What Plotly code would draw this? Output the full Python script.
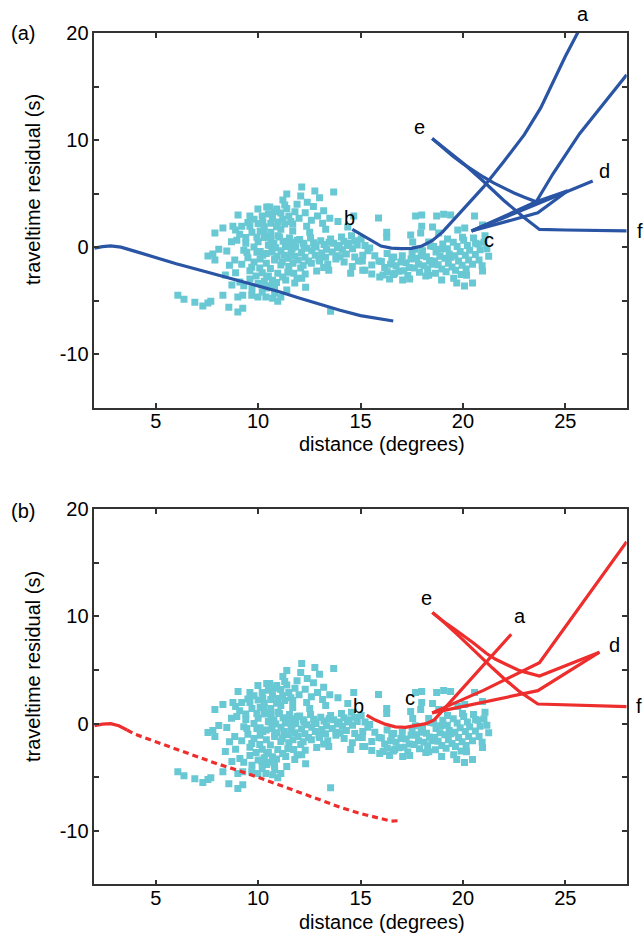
import plotly.graph_objects as go

# ---------------- observed residuals (same data in both panels) ----------------
obs_dist = [
    6.08, 6.38, 6.91, 7.30, 7.55, 7.69, 8.28, 8.57, 9.01, 9.25, 9.01, 9.25, 9.69, 9.99, 10.38,
    9.02, 9.60, 9.99, 10.42, 7.89, 8.28, 8.77, 9.20, 9.60, 10.23, 9.94, 10.28, 8.96, 9.40, 8.08,
    8.47, 7.55, 7.79, 7.89, 8.86, 9.45, 9.94, 10.23, 9.69, 10.08, 10.42, 8.72, 9.11, 9.60, 10.18, 10.42,
    12.13, 12.77, 13.69, 11.40, 12.08, 11.21, 11.30, 10.91, 11.11, 10.57, 14.67, 13.15, 12.37, 11.69, 11.30, 10.96, 10.62, 14.38, 13.30, 12.52, 11.69, 11.11, 10.62,
    10.81, 11.11, 11.45, 10.96, 11.74, 12.08, 12.86, 13.45, 14.52, 15.21, 15.11, 14.72, 11.35, 11.79, 12.13, 12.32, 10.81, 11.11, 10.71,
    10.96, 13.54,
    10.63, 10.77, 10.86, 10.68, 10.93, 10.81, 10.97, 10.58,
    11.04, 11.22, 11.33, 11.12, 11.28, 11.47, 11.18, 11.42,
    11.53, 11.72, 11.84, 11.61, 11.79, 11.96, 11.66, 11.91,
    12.03, 12.21, 12.37, 12.12, 12.29, 12.46, 12.24,
    12.56, 12.71, 12.83, 12.62, 12.79, 12.97, 12.74,
    13.06, 13.22, 13.34, 13.11, 13.29, 13.47,
    13.54, 13.69, 13.87, 13.62, 13.81, 13.96,
    14.07, 14.19, 14.36, 14.12, 14.31, 14.44,
    14.56, 14.72, 14.84, 14.61,
    15.03, 15.22, 15.36, 15.09,
    9.8, 10.0, 10.2, 10.5, 10.7, 10.3, 10.9, 11.2, 11.5, 11.8, 11.6, 12.0, 12.3, 12.6, 12.9, 13.2, 13.5, 13.9, 12.4, 12.7, 11.9, 13.0, 11.4, 10.8,
    9.5, 9.8, 10.1, 10.4, 10.6, 10.2, 9.9, 10.5, 10.7, 10.3, 10.0, 10.6, 10.9, 11.2, 11.5, 11.7, 11.9, 12.3, 10.8, 11.4, 9.7, 10.2, 9.3, 9.6, 9.2, 8.9, 8.6, 8.4,
    9.1, 9.4, 9.7, 10.0, 10.3, 10.5, 9.8, 9.3, 10.1, 10.4, 8.7, 8.9, 9.5, 10.6, 10.1,
    12.6, 13.0, 13.4, 13.8, 14.2, 14.0, 13.2, 12.2, 14.6, 14.9,
    15.88, 17.69, 17.99, 18.72, 19.06, 19.40, 20.57, 17.99, 18.52, 16.28, 16.28, 17.45, 17.94, 18.82, 19.75, 20.09, 20.96, 17.55, 18.33, 19.25, 19.98, 20.62, 15.45, 16.62,
    15.55, 15.55, 15.94, 16.42, 17.40, 18.33, 18.96, 19.55, 19.70, 20.18, 20.96, 20.08, 20.47, 15.11, 16.10, 16.67, 17.06,
    15.70, 15.90, 16.30,
    16.02, 16.18, 16.31, 16.47,
    16.53, 16.74, 16.88, 16.61, 16.97,
    17.04, 17.23, 17.38, 17.12, 17.31, 17.47,
    17.52, 17.74, 17.83, 17.63, 17.88, 17.97, 17.68,
    18.03, 18.22, 18.37, 18.11, 18.28, 18.48, 18.19, 18.42,
    18.57, 18.69, 18.88, 18.62, 18.79, 18.97, 18.66, 18.91,
    19.02, 19.24, 19.33, 19.12, 19.29, 19.47, 19.18, 19.42,
    19.53, 19.72, 19.87, 19.61, 19.79, 19.96, 19.64, 19.91,
    20.04, 20.22, 20.33, 20.12, 20.28, 20.47, 20.16,
    20.52, 20.73, 20.84, 20.61, 20.79, 20.94,
    21.03, 21.17, 21.26, 21.08,
]
obs_resid = [
    -4.49, -4.86, -5.14, -5.51, -5.23, -5.05, -4.49, -5.61, -6.07, -5.70, -4.67, -4.49, -4.49, -4.67, -4.67,
    2.99, 2.90, 3.55, 3.74, 1.31, 1.78, 1.96, 1.96, 1.96, 2.34, 0.93, 1.50, 0.65, 0.37, -0.19,
    -0.37, -0.84, -0.65, -1.21, -1.21, -0.47, -0.47, -0.75, -1.87, -1.96, -2.80, -3.55, -3.27, -2.99, -3.55, -3.83,
    5.61, 5.23, 5.14, 4.95, 4.77, 4.39, 3.93, 3.55, 3.18, 3.74, 2.90, 2.24, 1.96, 2.15, 2.15, 2.34, 2.24, 1.87, 1.68, 1.40, 1.50, 1.68, 1.40,
    -1.21, -1.68, -2.34, -2.43, -2.43, -1.96, -2.24, -2.15, -2.43, -2.15, -0.75, -0.93, -3.08, -3.36, -2.90, -3.74, -4.30, -4.67, -4.77,
    -5.05, -5.98,
    0.75, 0.35, -0.05, -0.45, -0.85, -1.10, 1.05, 0.15,
    0.95, 0.55, 0.05, -0.35, -0.75, -1.05, -1.40, 0.30,
    0.85, 0.45, 0.00, -0.45, -0.85, -1.20, -0.15, 0.65,
    0.70, 0.35, -0.10, -0.50, -0.95, -1.30, 0.15,
    0.85, 0.40, 0.00, -0.35, -0.75, -1.10, 0.20,
    0.60, 0.25, -0.20, -0.55, -0.95, 0.45,
    0.75, 0.35, -0.05, -0.45, -0.80, 0.15,
    0.95, 0.55, 0.15, -0.25, -0.65, 0.35,
    1.05, 0.60, 0.20, -0.15,
    0.75, 0.15, -0.35, -1.30,
    2.6, 2.2, 2.9, 3.1, 2.7, 1.9, 1.9, 2.6, 2.9, 3.3, 2.4, 2.7, 3.2, 2.5, 2.9, 3.4, 2.7, 2.4, 4.2, 3.8, 4.0, 4.6, 3.6, 3.3,
    -1.0, -1.4, -1.1, -1.5, -2.0, -2.4, -2.7, -2.7, -3.1, -3.2, -3.4, -3.6, -3.3, -2.8, -1.8, -1.5, -2.9, -2.5, -3.9, -4.0, -3.9, -4.2, -3.6, -2.2, -1.6, -2.4, -1.7, -2.6,
    1.2, 0.9, 1.4, 0.5, 0.9, 0.2, 0.0, -0.3, -0.4, -0.6, 0.5, 1.6, 2.3, 1.0, 1.5,
    -1.5, -1.3, -1.6, -1.1, -1.4, -0.9, -1.9, -1.7, -1.8, -1.3,
    2.71, 2.90, 2.99, 2.90, 3.08, 2.99, 2.90, 1.96, 1.87, 1.40, 0.93, 1.12, 1.31, 1.31, 1.59, 1.78, 2.06, 0.47, 0.47, 0.75, 0.93, 0.37, -0.09, -0.93,
    -1.68, -2.52, -2.80, -2.99, -2.99, -2.62, -3.08, -2.90, -3.36, -2.62, -2.24, -3.64, -3.36, -2.15, -2.60, -2.43, -3.08,
    -0.8, -1.3, -0.6,
    -1.35, -1.90, -2.30, -1.60,
    -1.10, -1.75, -2.25, -2.55, -1.40,
    -0.80, -1.45, -1.90, -2.20, -2.65, -1.10,
    -0.55, -1.05, -1.60, -1.95, -2.35, -0.80, -0.20,
    -0.35, -0.90, -1.25, -1.75, -2.10, -1.60, -2.70, 0.10,
    0.05, -0.45, -0.85, -1.30, -1.65, -2.05, -2.45, -0.20,
    0.30, -0.15, -0.65, -1.05, -1.50, -1.85, -2.30, -0.95,
    0.45, 0.05, -0.40, -0.80, -1.30, -1.70, -2.15, -2.55,
    0.65, 0.15, -0.30, -0.75, -1.20, -1.60, -2.05,
    0.85, 0.30, -0.25, -0.70, -1.20, -1.75,
    0.45, -0.15, -0.85, 1.05,
]

# ---------------- panel (a): model curves ----------------
a_dir_x = [2.0, 2.4, 2.8, 3.3, 4.0, 5, 6, 7, 8, 9, 10, 11, 12, 13, 14, 15, 16, 16.6]
a_dir_y = [-0.1, 0.05, 0.12, 0.0, -0.4, -1.0, -1.55, -2.07, -2.6, -3.1, -3.6, -4.15, -4.75, -5.33, -5.9, -6.4, -6.72, -6.9]

a_ba_x = [14.6, 15.0, 15.5, 16.0, 16.5, 17.0, 17.5, 18.0, 18.5, 19.0, 19.5, 20.0, 20.5, 21.0, 22.0, 23.0, 23.8, 24.5, 25.0, 25.6, 25.9]
a_ba_y = [1.65, 1.2, 0.6, 0.1, -0.1, -0.15, -0.12, 0.1, 0.6, 1.4, 2.45, 3.5, 4.45, 5.6, 8.0, 10.5, 13.0, 15.8, 17.8, 20.0, 21.2]

a_c1_x = [20.42, 23.58, 24.4, 25.7, 28.0]
a_c1_y = [1.5, 4.23, 6.85, 10.6, 16.1]
a_c2_x = [20.42, 22.0, 23.66, 25.12]
a_c2_y = [1.5, 2.35, 3.2, 5.26]
a_cd_x = [20.42, 26.34]
a_cd_y = [1.5, 6.17]
a_eu_x = [18.5, 19.0, 19.5, 20.0, 20.5, 21.0, 21.5, 22.0, 22.5, 23.0, 23.58, 25.12]
a_eu_y = [10.15, 9.3, 8.5, 7.8, 7.15, 6.55, 6.0, 5.5, 5.05, 4.65, 4.23, 5.26]
a_el_x = [18.5, 19.0, 20.0, 21.0, 22.0, 23.0, 23.74, 25.0, 26.5, 28.0]
a_el_y = [10.15, 9.4, 7.85, 6.15, 4.35, 2.75, 1.65, 1.6, 1.57, 1.52]

a_lab_txt = ["a", "b", "c", "d", "e", "f"]
a_lab_x = [25.86, 14.44, 21.27, 26.91, 17.89, 28.65]
a_lab_y = [21.8, 2.68, 0.65, 7.13, 11.24, 1.52]

# ---------------- panel (b): model curves ----------------
b_dir_solid_x = [2.0, 2.4, 2.8, 3.2, 3.6]
b_dir_solid_y = [-0.2, -0.05, 0.0, -0.2, -0.6]
b_dir_dot_x = [3.6, 4, 5, 6, 7, 8, 9, 10, 11, 12, 13, 14, 15, 16, 16.5, 17.0]
b_dir_dot_y = [-0.6, -1.0, -1.7, -2.4, -3.1, -3.75, -4.35, -5.0, -5.7, -6.4, -7.1, -7.8, -8.4, -8.9, -9.1, -9.05]

b_ba_x = [15.3, 15.7, 16.2, 16.7, 17.2, 17.7, 18.2, 18.6, 19.5, 20.5, 21.5, 22.36]
b_ba_y = [0.8, 0.35, -0.05, -0.3, -0.35, -0.2, 0.0, 0.35, 2.26, 4.38, 6.5, 8.34]

b_c1_x = [18.5, 21.0, 23.74, 28.0]
b_c1_y = [1.0, 3.1, 5.69, 16.98]
b_c2_x = [18.5, 21.0, 23.66, 26.67]
b_c2_y = [1.0, 2.0, 3.07, 6.66]
b_eu_x = [18.51, 19.0, 19.53, 20.0, 20.5, 21.14, 21.6, 22.2, 22.77, 23.74, 26.67]
b_eu_y = [10.36, 9.6, 8.9, 8.25, 7.55, 6.56, 6.0, 5.45, 4.94, 4.44, 6.66]
b_el_x = [18.51, 19.0, 19.84, 20.6, 21.46, 22.1, 22.77, 23.66, 25.5, 28.0]
b_el_y = [10.36, 9.6, 8.11, 6.7, 5.16, 4.05, 2.98, 1.83, 1.72, 1.58]

b_lab_txt = ["a", "b", "c", "d", "e", "f"]
b_lab_x = [22.81, 14.88, 17.40, 27.40, 18.21, 28.59]
b_lab_y = [10.05, 1.64, 2.36, 7.34, 11.70, 1.64]

# ---------------- styling ----------------
FONT = "Liberation Sans, Arial, Helvetica, sans-serif"
CYAN = "#68C8D3"
BLUE = "#2A55A5"
RED = "#EE2D2D"
LW = 3.2
W, H = 644, 936
X_RANGE = [2, 28]
Y_RANGE = [-15, 20]
XDOM = [94.3 / W, 626.7 / W]
YDOM_A = [1 - 407.7 / H, 1 - 33 / H]
YDOM_B = [1 - 884.3 / H, 1 - 509.3 / H]

fig = go.Figure()

for xa, ya in (("x", "y"), ("x2", "y2")):
    fig.add_trace(go.Scatter(x=obs_dist, y=obs_resid, mode="markers", xaxis=xa, yaxis=ya,
                             marker=dict(symbol="square", size=7, color=CYAN, line=dict(width=0)),
                             showlegend=False, hoverinfo="skip"))

def add_line(xs, ys, color, xa, ya, dash="solid"):
    fig.add_trace(go.Scatter(x=xs, y=ys, mode="lines", xaxis=xa, yaxis=ya,
                             line=dict(color=color, width=LW, dash=dash),
                             showlegend=False, hoverinfo="skip"))

for xs, ys in ((a_dir_x, a_dir_y), (a_ba_x, a_ba_y), (a_c1_x, a_c1_y), (a_c2_x, a_c2_y),
               (a_cd_x, a_cd_y), (a_eu_x, a_eu_y), (a_el_x, a_el_y)):
    add_line(xs, ys, BLUE, "x", "y")

add_line(b_dir_solid_x, b_dir_solid_y, RED, "x2", "y2")
add_line(b_dir_dot_x, b_dir_dot_y, RED, "x2", "y2", dash="6px,4px")
for xs, ys in ((b_ba_x, b_ba_y), (b_c1_x, b_c1_y), (b_c2_x, b_c2_y),
               (b_eu_x, b_eu_y), (b_el_x, b_el_y)):
    add_line(xs, ys, RED, "x2", "y2")

annotations = []

# branch labels: placed on paper via the axes' linear mapping (so labels outside the frame still show)
def data_to_paper(x, y, ydom):
    fx = XDOM[0] + (x - X_RANGE[0]) / (X_RANGE[1] - X_RANGE[0]) * (XDOM[1] - XDOM[0])
    fy = ydom[0] + (y - Y_RANGE[0]) / (Y_RANGE[1] - Y_RANGE[0]) * (ydom[1] - ydom[0])
    return fx, fy

for txt, xs, ys, ydom in ((a_lab_txt, a_lab_x, a_lab_y, YDOM_A),
                          (b_lab_txt, b_lab_x, b_lab_y, YDOM_B)):
    for t, x, y in zip(txt, xs, ys):
        fx, fy = data_to_paper(x, y, ydom)
        annotations.append(dict(text=t, x=fx, y=fy, xref="paper", yref="paper", showarrow=False,
                                xanchor="center", yanchor="middle",
                                font=dict(size=20, family=FONT, color="black")))

def px(xp, yp):
    return xp / W, 1 - yp / H

for lab, ypx_title, ypx_x, ypx_p in (("(a)", 190, 444, 33), ("(b)", 667, 922, 511)):
    x0, y0 = px(33, ypx_title)
    annotations.append(dict(text="traveltime residual (s)", x=x0, y=y0, xref="paper", yref="paper",
                            textangle=-90, showarrow=False, xanchor="center", yanchor="middle",
                            font=dict(size=20, family=FONT, color="black")))
    x1, y1 = px(382, ypx_x)
    annotations.append(dict(text="distance (degrees)", x=x1, y=y1, xref="paper", yref="paper",
                            showarrow=False, xanchor="center", yanchor="middle",
                            font=dict(size=20, family=FONT, color="black")))
    x2, y2 = px(9, ypx_p)
    annotations.append(dict(text=lab, x=x2, y=y2, xref="paper", yref="paper",
                            showarrow=False, xanchor="left", yanchor="middle",
                            font=dict(size=20, family=FONT, color="black")))

x_ticks = [5, 10, 15, 20, 25]
y_ticks = [-10, -5, 0, 5, 10, 15, 20]
y_ticktext = ["-10", "", "0", "", "10", "", "20"]

axis_common = dict(showline=True, linecolor="#333333", linewidth=1.5, mirror="allticks",
                   ticks="inside", ticklen=5, tickwidth=1.5, tickcolor="#333333",
                   showgrid=False, zeroline=False, automargin=False,
                   tickfont=dict(size=20, family=FONT, color="black"))

fig.update_layout(
    width=W, height=H,
    margin=dict(l=0, r=0, t=0, b=0, autoexpand=False),
    paper_bgcolor="white", plot_bgcolor="white",
    showlegend=False,
    xaxis=dict(domain=XDOM, range=X_RANGE, anchor="y", tickvals=x_ticks,
               ticklabelstandoff=-5, **axis_common),
    yaxis=dict(domain=YDOM_A, range=Y_RANGE, anchor="x",
               tickvals=y_ticks, ticktext=y_ticktext, **axis_common),
    xaxis2=dict(domain=XDOM, range=X_RANGE, anchor="y2", tickvals=x_ticks,
                ticklabelstandoff=-5, **axis_common),
    yaxis2=dict(domain=YDOM_B, range=Y_RANGE, anchor="x2",
                tickvals=y_ticks, ticktext=y_ticktext, **axis_common),
    annotations=annotations,
)

fig.write_html("out.html")
